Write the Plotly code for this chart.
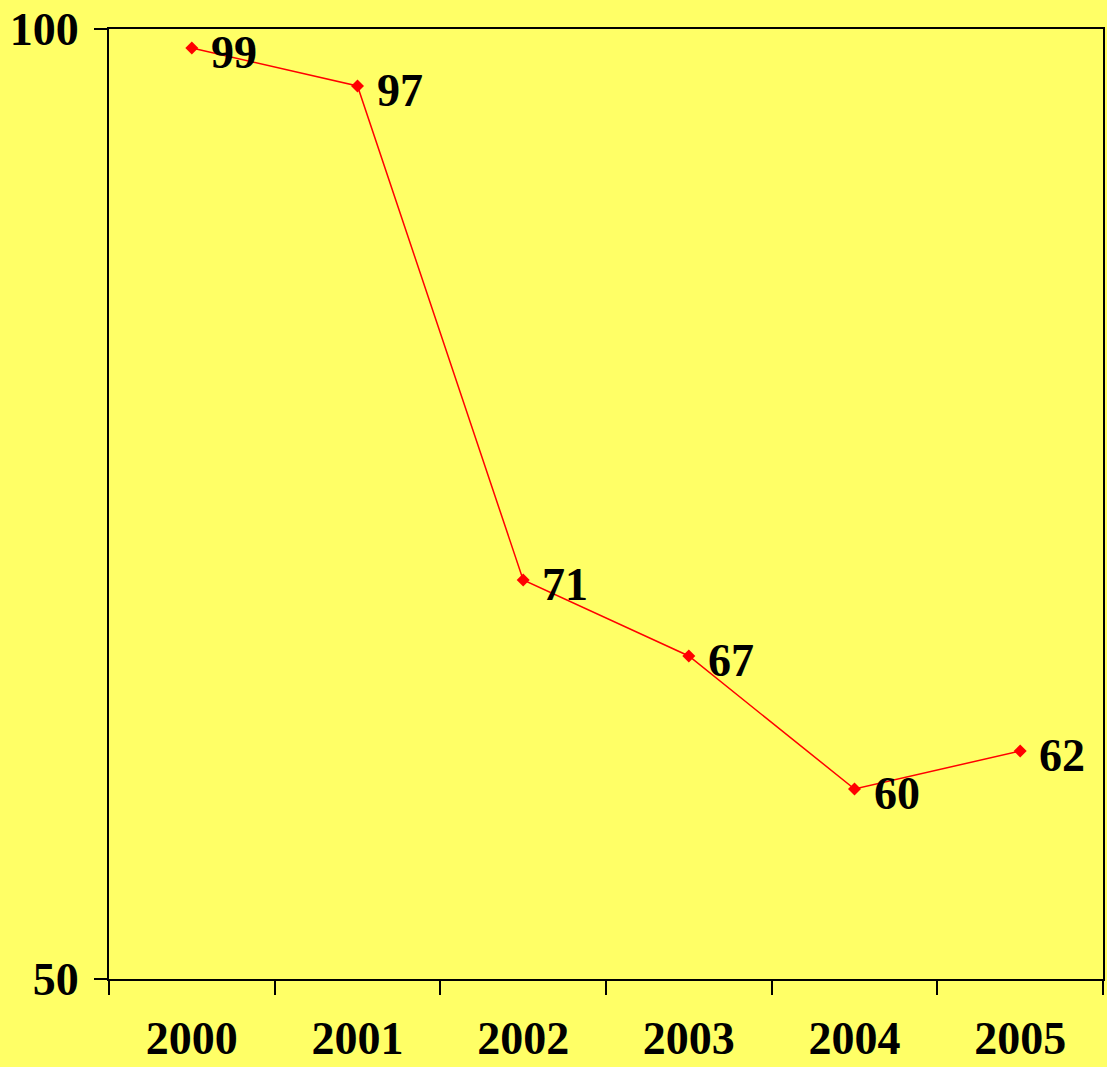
import plotly.graph_objects as go

years = ["2000", "2001", "2002", "2003", "2004", "2005"]
values = [99, 97, 71, 67, 60, 62]
labels = ["99", "97", "71", "67", "60", "62"]

bg = "#FFFF66"
font_fam = "Liberation Serif, Times New Roman, serif"

fig = go.Figure()
fig.add_trace(go.Scatter(
    x=years, y=values,
    mode="lines+markers",
    line=dict(color="#FF0000", width=1.5),
    marker=dict(symbol="diamond", size=10, color="#FF0000"),
    hoverinfo="skip",
))
for i, (v, lab) in enumerate(zip(values, labels)):
    fig.add_annotation(
        x=i, y=v, xref="x", yref="y", text=lab, showarrow=False,
        xanchor="left", yanchor="middle", xshift=17, yshift=-4,
        font=dict(family=font_fam, size=46, color="black", weight="bold"),
    )

fig.update_layout(
    width=1107, height=1067,
    paper_bgcolor=bg, plot_bgcolor=bg,
    margin=dict(l=109, r=4, t=29, b=88, autoexpand=False),
    showlegend=False,
    font=dict(family=font_fam, color="black"),
)
fig.update_xaxes(
    type="category", tickson="boundaries",
    ticks="outside", ticklen=14, tickwidth=2, tickcolor="black",
    showline=True, linecolor="black", linewidth=2, mirror=True,
    showgrid=False, zeroline=False, automargin=False,
    tickfont=dict(family=font_fam, size=46, color="black", weight="bold"),
    ticklabelstandoff=18,
    range=[-0.5, 5.5],
)
fig.update_yaxes(
    range=[50, 100], tickvals=[50, 100], ticktext=["50", "100"],
    ticks="outside", ticklen=13, tickwidth=2, tickcolor="black",
    showline=True, linecolor="black", linewidth=2, mirror=True,
    showgrid=False, zeroline=False, automargin=False,
    tickfont=dict(family=font_fam, size=46, color="black", weight="bold"),
    ticklabelstandoff=6,
)

fig.write_html("out.html")
